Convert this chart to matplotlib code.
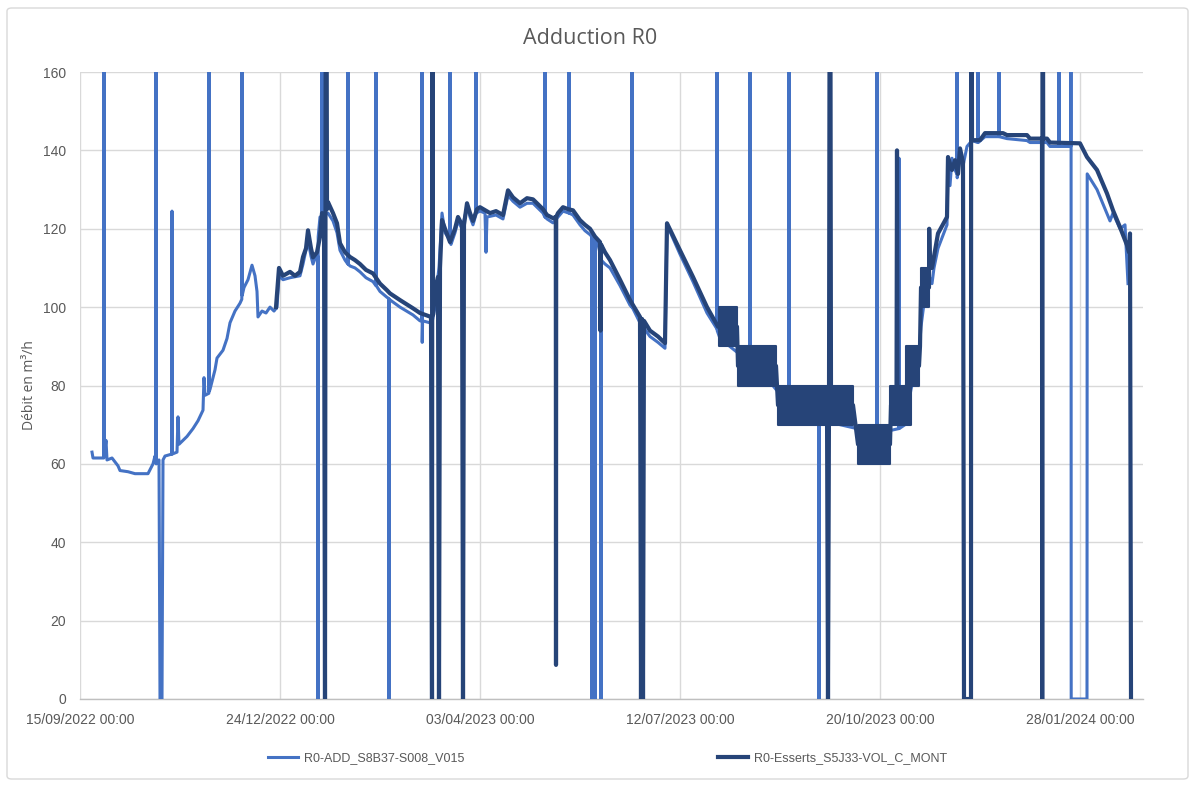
import numpy as np
import matplotlib
matplotlib.use("Agg")
import matplotlib.pyplot as plt
from matplotlib.patches import FancyBboxPatch

# ---------------------------------------------------------------------------
# Data: (days since 15/09/2022 00:00, flow in m3/h); 250 = off-scale spike
# ---------------------------------------------------------------------------
START = np.datetime64("2022-09-15T00:00")

add_s8b37 = [
    (6, 63), (6.5, 61.5), (10, 61.5), (11.9, 61.5), (12, 250), (12.1, 62), (13, 66), (13.5, 61),
    (16, 61.5), (17.5, 60.5), (19, 59.5), (20, 58.3), (24, 58), (27.5, 57.5), (34, 57.5),
    (35, 58.5), (36.5, 60), (37.5, 62), (37.9, 61), (38, 250), (38.1, 60), (39.5, 61), (40, 0),
    (41, 0), (41.5, 61), (42.5, 62), (45.9, 62.5), (46, 124.5), (46.1, 62.5), (48.5, 63),
    (49, 72), (49.5, 65), (50.5, 65.5), (53.5, 67), (56.5, 69), (59, 71), (61.5, 73.7),
    (62, 82), (62.5, 77.5), (64.4, 78), (64.5, 250), (64.6, 78.5), (65, 79), (67.5, 84),
    (68.5, 87), (71.5, 89), (73.5, 92), (75, 96), (77.5, 99), (80, 101), (80.9, 102),
    (81, 250), (81.1, 103), (82, 105), (84, 107), (86, 110.7), (87.5, 108), (88.5, 104),
    (89, 97.5), (91, 99), (93, 98.5), (95, 100), (97, 99), (98.5, 100), (99.5, 108),
    (101.5, 107), (105, 107.5), (110, 108), (111.5, 111), (114, 117), (115.5, 113),
    (116.5, 111), (118, 113), (118.9, 113), (119, 0), (119.1, 118), (120, 123), (120.9, 123),
    (121, 250), (121.1, 123), (124, 124), (126.5, 122), (128.5, 119), (130, 114.5),
    (132.5, 112), (133.9, 111), (134, 250), (134.1, 111), (135, 110.5), (137.5, 110),
    (140, 109), (143, 107.5), (146.5, 106.5), (147.9, 105.5), (148, 250), (148.1, 105.5),
    (150, 104), (153.5, 102.5), (154.4, 102.2), (154.5, 0), (154.6, 102), (160, 100),
    (166.5, 98), (170, 96.5), (170.9, 96.5), (171, 250), (171.1, 91), (171.3, 96.5),
    (175, 96), (176, 96), (177.5, 100), (178.5, 106), (179.5, 110), (181, 124), (182.5, 119),
    (184.5, 117.5), (184.9, 117), (185, 250), (185.1, 116.5), (185.5, 116), (187.5, 119),
    (189, 122), (191, 120), (193.5, 125.5), (195, 123), (196.5, 121), (197.9, 123.5),
    (198, 250), (198.1, 124), (200, 124.5), (202.5, 124), (203, 114), (203.5, 123),
    (208, 123.5), (211.5, 122.5), (214, 128.5), (216.5, 127), (220, 125.5), (223.5, 126.5),
    (226.5, 126.5), (228.5, 125.5), (231.5, 124), (232.4, 123), (232.5, 250), (232.6, 123),
    (233.5, 122.5), (236.5, 121.5), (239, 123), (241.5, 124.5), (244.4, 124), (244.5, 250),
    (244.6, 124), (246.5, 123.5), (250, 121), (252.5, 119.5), (255, 118.5), (255.9, 118),
    (256, 0), (256.1, 118), (257.4, 117), (257.5, 0), (257.6, 117), (259, 116), (260.4, 113),
    (260.5, 0), (260.6, 112), (262.5, 111), (265, 110), (270, 105.5), (275, 100.5),
    (275.9, 100), (276, 250), (276.1, 100), (280, 96), (285, 92.5), (289, 91), (292.5, 89.5),
    (293.5, 121), (300, 113.5), (306.5, 106.5), (313.5, 98.5), (318.4, 94.5), (318.5, 250),
    (318.6, 94), (320, 92), (328.5, 88.5), (334.9, 86), (335, 250), (335.1, 86), (340, 84),
    (348, 79), (349, 78.5), (354.4, 77.5), (354.5, 250), (354.6, 77.5), (360, 76),
    (369.4, 73.5), (369.5, 0), (369.6, 73.5), (380, 70), (388.5, 69), (398.4, 68),
    (398.5, 250), (398.6, 68), (405, 68.5), (409.4, 69), (409.5, 138), (409.6, 69),
    (412.5, 70), (415.5, 79), (419.5, 88), (420.5, 95), (422.5, 103), (424.5, 108),
    (426, 106), (427, 110), (429, 115), (433.5, 121), (434, 136), (435, 131), (436, 138),
    (437.5, 135), (438.4, 134), (438.5, 250), (438.6, 133), (440, 139), (441.5, 136),
    (443.5, 141), (446, 142.5), (448.9, 142), (449, 250), (449.1, 142), (452.5, 143.5),
    (459.4, 143.5), (459.5, 250), (459.6, 143.5), (463.5, 143), (473.5, 142.5), (475, 142),
    (483.5, 142), (485, 141), (489.4, 141), (489.5, 250), (489.6, 141), (495, 141),
    (495.4, 141), (495.5, 250), (495.6, 0), (503.5, 0), (503.6, 134), (508.5, 130),
    (515, 122), (516.5, 124), (520, 120), (522.5, 121), (524, 106),
]

esserts_s5j33 = [
    (98, 100), (99.5, 110), (101.5, 108), (105, 109), (107.5, 108), (110, 109), (111.5, 112.8),
    (113, 115), (114, 119.6), (115.5, 115), (116.5, 112.7), (118.5, 114), (120, 118),
    (121, 124), (122, 123), (122.5, 0), (123, 250), (123.5, 125), (124, 126.8), (126.5, 124),
    (128.5, 121.4), (130, 116.3), (132.5, 114), (135, 112.8), (137.5, 112), (140, 111),
    (143, 109.5), (146.5, 108.6), (150, 106), (153.5, 104.3), (155, 103.5), (160, 101.8),
    (166.5, 99.7), (170, 98.5), (175.5, 97.5), (176, 0), (176.25, 250), (176.5, 98),
    (177.5, 104), (179, 107.7), (179.5, 0), (180, 110), (181, 122.2), (182.5, 120),
    (185, 116.6), (187.5, 120), (189, 123), (191, 121), (191.5, 0), (192, 121), (193.5, 126.5),
    (195, 124), (196.5, 122), (198.5, 125), (200, 125.5), (205, 124), (208, 124.5),
    (211.5, 123.5), (214, 129.8), (216.5, 128), (220, 126.5), (223.5, 127.8), (226.5, 127.5),
    (228.5, 126.5), (231.5, 125), (233.5, 123.5), (236.5, 122.7), (237.9, 123), (238, 8.7),
    (238.1, 123), (239, 124), (241.5, 125.5), (244, 125), (246.5, 124.7), (250, 122.2),
    (252.5, 121), (255, 120), (257.5, 118), (260, 116.6), (260.25, 94), (260.5, 116),
    (262.5, 114), (265, 112), (270, 107), (275, 101.8), (280, 97.5), (280.5, 0), (281, 97),
    (281.5, 0), (282, 96.5), (285, 94), (289, 92.5), (292.5, 90.8), (293.5, 121.4),
    (300, 114.5), (306.5, 107.7), (313.5, 100), (319, 95), (328.5, 95), (329, 85), (348, 85),
    (349, 75), (373.5, 75), (374, 0), (374.5, 75), (375, 250), (375.5, 75), (386.5, 75),
    (389, 65), (405, 65), (405.5, 75), (408.25, 75), (408.5, 140), (408.75, 75), (413, 75),
    (414, 85), (419.5, 85), (420, 90), (420.5, 105), (424.5, 105), (424.6, 120), (425, 110),
    (426, 110), (429, 118.8), (433.5, 123), (434, 138.3), (436, 135), (437.5, 137.5),
    (439, 134), (440, 140.5), (441.5, 137), (442, 0), (445.5, 0), (445.6, 250), (446, 142.6),
    (450, 142.6), (452.5, 144.4), (461.5, 144.4), (463.5, 143.9), (473.5, 143.9), (475, 143),
    (481, 143), (481.1, 0), (481.3, 250), (481.6, 143), (483.5, 143), (485, 142), (500, 141.8),
    (503.5, 138.3), (508.5, 135), (513.5, 129), (516.5, 124.7), (520, 120.4), (523.5, 115.8),
    (524.5, 114), (525, 118.8), (525.5, 0),
]

# Fast oscillation between two set points: (start day, end day, low, high)
esserts_bands = [
    (319.5, 328.5, 90, 100),
    (329, 348, 80, 90),
    (349, 386.5, 70, 80),
    (389, 405, 60, 70),
    (405, 415.5, 70, 80),
    (413, 419.5, 80, 90),
    (420.5, 424.5, 100, 110),
]

series_names = ["R0-ADD_S8B37-S008_V015", "R0-Esserts_S5J33-VOL_C_MONT"]
tick_days = [0, 100, 200, 300, 400, 500]
tick_labels = ["15/09/2022 00:00", "24/12/2022 00:00", "03/04/2023 00:00",
               "12/07/2023 00:00", "20/10/2023 00:00", "28/01/2024 00:00"]
y_ticks = [0, 20, 40, 60, 80, 100, 120, 140, 160]


def to_dates(days):
    minutes = np.round(np.asarray(days, dtype=float) * 24 * 60).astype("timedelta64[m]")
    return START + minutes


LIGHT = "#4472C4"
DARK = "#264478"
GRID = "#D9D9D9"
TEXT = "#595959"
FONT = ["Liberation Sans", "DejaVu Sans"]

fig = plt.figure(figsize=(11.95, 7.87), dpi=100)
fig.patches.append(FancyBboxPatch((7 / 1195, 8 / 787), 1181 / 1195, 771 / 787,
                                  boxstyle="round,pad=0,rounding_size=0.004",
                                  transform=fig.transFigure, facecolor="white",
                                  edgecolor=GRID, linewidth=1.0, zorder=-10))

ax = fig.add_axes([80 / 1195, 1 - 699 / 787, 1063 / 1195, 627 / 787])
ax.set_facecolor("none")

a_days, a_vals = zip(*add_s8b37)
b_days, b_vals = zip(*esserts_s5j33)

line_a, = ax.plot(to_dates(a_days), a_vals, color=LIGHT, lw=2.2, solid_joinstyle="round",
                  zorder=3)
line_b, = ax.plot(to_dates(b_days), b_vals, color=DARK, lw=3.0, solid_joinstyle="round",
                  zorder=4)
for d0, d1, lo, hi in esserts_bands:
    ax.fill_between(to_dates([d0, d1]), [lo, lo], [hi, hi], color=DARK,
                    edgecolor=DARK, linewidth=1.5, zorder=4)

ax.set_ylim(0, 160)
ax.set_xlim(to_dates([0])[0], to_dates([531.5])[0])
ax.set_yticks(y_ticks)
ax.set_xticks(to_dates(tick_days))
ax.set_xticklabels(tick_labels, fontfamily=FONT, fontsize=10, color=TEXT)
for lbl in ax.get_yticklabels():
    lbl.set_fontfamily(FONT)
    lbl.set_fontsize(10)
    lbl.set_color(TEXT)
ax.tick_params(axis="both", length=0)
ax.tick_params(axis="y", pad=10)
ax.tick_params(axis="x", pad=10)

ax.grid(True, color=GRID, linewidth=1.0, zorder=0)
ax.set_axisbelow(True)
for side in ("top", "right", "left"):
    ax.spines[side].set_visible(False)
ax.spines["bottom"].set_color("#BFBFBF")
ax.spines["bottom"].set_linewidth(1.0)

ax.set_ylabel("Débit en m³/h", fontfamily=["Open Sans", "DejaVu Sans"], fontsize=10,
              color=TEXT, labelpad=4)
fig.text(590 / 1195, 1 - 38 / 787, "Adduction R0", ha="center", va="center",
         fontfamily=["Open Sans", "DejaVu Sans"], fontsize=15.5, color=TEXT)

# two legend entries placed independently, as in the original layout
leg_y = 1 - 758 / 787
for line, name, x0 in ((line_a, series_names[0], 268), (line_b, series_names[1], 718)):
    leg = fig.legend([line], [name], loc="center left", bbox_to_anchor=(x0 / 1195, leg_y),
                     frameon=False, borderpad=0, borderaxespad=0, handlelength=2.4,
                     handletextpad=0.45, prop={"family": FONT, "size": 9})
    for t in leg.get_texts():
        t.set_color(TEXT)

fig.savefig("out.png", dpi=100)
